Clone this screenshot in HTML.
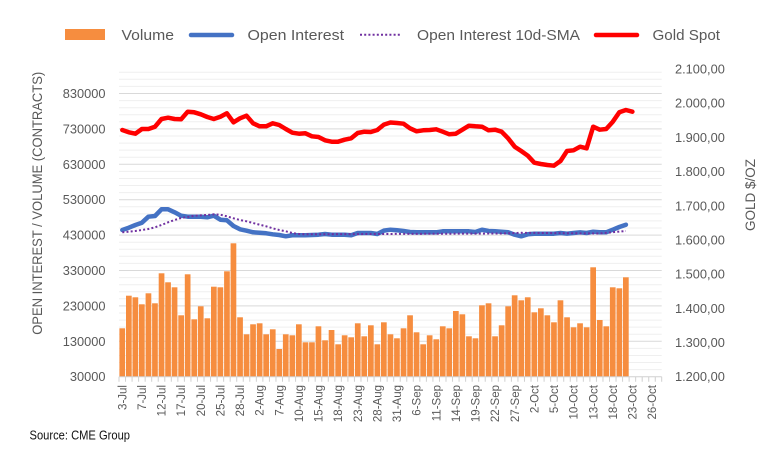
<!DOCTYPE html>
<html><head><meta charset="utf-8"><style>
html,body{margin:0;padding:0;background:#fff;}
svg{display:block;font-family:"Liberation Sans",Arial,sans-serif;}
</style></head><body>
<svg width="774" height="467" viewBox="0 0 774 467" xmlns="http://www.w3.org/2000/svg">
<rect width="774" height="467" fill="#fff"/>
<g stroke="#EFEFEF" stroke-width="1">
<line x1="119" x2="661.7" y1="369.6" y2="369.6"/><line x1="119" x2="661.7" y1="362.5" y2="362.5"/><line x1="119" x2="661.7" y1="355.5" y2="355.5"/><line x1="119" x2="661.7" y1="348.4" y2="348.4"/>
<line x1="119" x2="661.7" y1="334.2" y2="334.2"/><line x1="119" x2="661.7" y1="327.1" y2="327.1"/><line x1="119" x2="661.7" y1="320.1" y2="320.1"/><line x1="119" x2="661.7" y1="313.0" y2="313.0"/>
<line x1="119" x2="661.7" y1="298.8" y2="298.8"/><line x1="119" x2="661.7" y1="291.7" y2="291.7"/><line x1="119" x2="661.7" y1="284.7" y2="284.7"/><line x1="119" x2="661.7" y1="277.6" y2="277.6"/>
<line x1="119" x2="661.7" y1="263.4" y2="263.4"/><line x1="119" x2="661.7" y1="256.3" y2="256.3"/><line x1="119" x2="661.7" y1="249.3" y2="249.3"/><line x1="119" x2="661.7" y1="242.2" y2="242.2"/>
<line x1="119" x2="661.7" y1="228.0" y2="228.0"/><line x1="119" x2="661.7" y1="220.9" y2="220.9"/><line x1="119" x2="661.7" y1="213.9" y2="213.9"/><line x1="119" x2="661.7" y1="206.8" y2="206.8"/>
<line x1="119" x2="661.7" y1="192.6" y2="192.6"/><line x1="119" x2="661.7" y1="185.5" y2="185.5"/><line x1="119" x2="661.7" y1="178.5" y2="178.5"/><line x1="119" x2="661.7" y1="171.4" y2="171.4"/>
<line x1="119" x2="661.7" y1="157.2" y2="157.2"/><line x1="119" x2="661.7" y1="150.1" y2="150.1"/><line x1="119" x2="661.7" y1="143.1" y2="143.1"/><line x1="119" x2="661.7" y1="136.0" y2="136.0"/>
<line x1="119" x2="661.7" y1="121.8" y2="121.8"/><line x1="119" x2="661.7" y1="114.7" y2="114.7"/><line x1="119" x2="661.7" y1="107.7" y2="107.7"/><line x1="119" x2="661.7" y1="100.6" y2="100.6"/>
<line x1="119" x2="661.7" y1="86.4" y2="86.4"/><line x1="119" x2="661.7" y1="79.3" y2="79.3"/><line x1="119" x2="661.7" y1="72.3" y2="72.3"/>
</g>
<g stroke="#D9D9D9" stroke-width="1">
<line x1="119" x2="661.7" y1="341.3" y2="341.3"/><line x1="119" x2="661.7" y1="305.9" y2="305.9"/><line x1="119" x2="661.7" y1="270.5" y2="270.5"/><line x1="119" x2="661.7" y1="235.1" y2="235.1"/><line x1="119" x2="661.7" y1="199.7" y2="199.7"/><line x1="119" x2="661.7" y1="164.3" y2="164.3"/><line x1="119" x2="661.7" y1="128.9" y2="128.9"/><line x1="119" x2="661.7" y1="93.5" y2="93.5"/>
</g>
<g fill="#F68D3F">
<rect x="119.4" y="328.3" width="5.7" height="48.4"/>
<rect x="126.0" y="295.7" width="5.7" height="81.0"/>
<rect x="132.5" y="297.3" width="5.7" height="79.4"/>
<rect x="139.0" y="304.3" width="5.7" height="72.4"/>
<rect x="145.6" y="293.3" width="5.7" height="83.4"/>
<rect x="152.1" y="303.3" width="5.7" height="73.4"/>
<rect x="158.7" y="273.3" width="5.7" height="103.4"/>
<rect x="165.2" y="282.3" width="5.7" height="94.4"/>
<rect x="171.7" y="287.3" width="5.7" height="89.4"/>
<rect x="178.3" y="315.3" width="5.7" height="61.4"/>
<rect x="184.8" y="274.3" width="5.7" height="102.4"/>
<rect x="191.4" y="319.3" width="5.7" height="57.4"/>
<rect x="197.9" y="306.3" width="5.7" height="70.4"/>
<rect x="204.5" y="318.3" width="5.7" height="58.4"/>
<rect x="211.0" y="286.7" width="5.7" height="90.0"/>
<rect x="217.5" y="287.3" width="5.7" height="89.4"/>
<rect x="224.1" y="271.3" width="5.7" height="105.4"/>
<rect x="230.6" y="243.3" width="5.7" height="133.4"/>
<rect x="237.2" y="317.3" width="5.7" height="59.4"/>
<rect x="243.7" y="334.3" width="5.7" height="42.4"/>
<rect x="250.2" y="324.3" width="5.7" height="52.4"/>
<rect x="256.8" y="323.3" width="5.7" height="53.4"/>
<rect x="263.3" y="334.3" width="5.7" height="42.4"/>
<rect x="269.9" y="329.3" width="5.7" height="47.4"/>
<rect x="276.4" y="349.0" width="5.7" height="27.7"/>
<rect x="282.9" y="334.3" width="5.7" height="42.4"/>
<rect x="289.5" y="335.3" width="5.7" height="41.4"/>
<rect x="296.0" y="324.3" width="5.7" height="52.4"/>
<rect x="302.6" y="342.3" width="5.7" height="34.4"/>
<rect x="309.1" y="342.3" width="5.7" height="34.4"/>
<rect x="315.6" y="326.3" width="5.7" height="50.4"/>
<rect x="322.2" y="340.3" width="5.7" height="36.4"/>
<rect x="328.7" y="330.0" width="5.7" height="46.7"/>
<rect x="335.3" y="344.3" width="5.7" height="32.4"/>
<rect x="341.8" y="335.3" width="5.7" height="41.4"/>
<rect x="348.3" y="337.3" width="5.7" height="39.4"/>
<rect x="354.9" y="323.3" width="5.7" height="53.4"/>
<rect x="361.4" y="336.3" width="5.7" height="40.4"/>
<rect x="368.0" y="325.3" width="5.7" height="51.4"/>
<rect x="374.5" y="344.3" width="5.7" height="32.4"/>
<rect x="381.0" y="322.3" width="5.7" height="54.4"/>
<rect x="387.6" y="334.3" width="5.7" height="42.4"/>
<rect x="394.1" y="338.3" width="5.7" height="38.4"/>
<rect x="400.7" y="328.3" width="5.7" height="48.4"/>
<rect x="407.2" y="315.3" width="5.7" height="61.4"/>
<rect x="413.7" y="332.3" width="5.7" height="44.4"/>
<rect x="420.3" y="344.3" width="5.7" height="32.4"/>
<rect x="426.8" y="335.3" width="5.7" height="41.4"/>
<rect x="433.4" y="339.3" width="5.7" height="37.4"/>
<rect x="439.9" y="326.3" width="5.7" height="50.4"/>
<rect x="446.4" y="328.3" width="5.7" height="48.4"/>
<rect x="453.0" y="311.0" width="5.7" height="65.7"/>
<rect x="459.5" y="314.3" width="5.7" height="62.4"/>
<rect x="466.1" y="336.3" width="5.7" height="40.4"/>
<rect x="472.6" y="338.3" width="5.7" height="38.4"/>
<rect x="479.1" y="305.3" width="5.7" height="71.4"/>
<rect x="485.7" y="303.3" width="5.7" height="73.4"/>
<rect x="492.2" y="336.3" width="5.7" height="40.4"/>
<rect x="498.8" y="325.3" width="5.7" height="51.4"/>
<rect x="505.3" y="306.3" width="5.7" height="70.4"/>
<rect x="511.8" y="295.3" width="5.7" height="81.4"/>
<rect x="518.4" y="300.3" width="5.7" height="76.4"/>
<rect x="524.9" y="297.3" width="5.7" height="79.4"/>
<rect x="531.5" y="312.3" width="5.7" height="64.4"/>
<rect x="538.0" y="308.3" width="5.7" height="68.4"/>
<rect x="544.5" y="315.3" width="5.7" height="61.4"/>
<rect x="551.1" y="322.3" width="5.7" height="54.4"/>
<rect x="557.6" y="300.3" width="5.7" height="76.4"/>
<rect x="564.2" y="317.3" width="5.7" height="59.4"/>
<rect x="570.7" y="327.3" width="5.7" height="49.4"/>
<rect x="577.2" y="323.3" width="5.7" height="53.4"/>
<rect x="583.8" y="327.3" width="5.7" height="49.4"/>
<rect x="590.3" y="267.3" width="5.7" height="109.4"/>
<rect x="596.9" y="320.0" width="5.7" height="56.7"/>
<rect x="603.4" y="326.3" width="5.7" height="50.4"/>
<rect x="609.9" y="287.3" width="5.7" height="89.4"/>
<rect x="616.5" y="288.3" width="5.7" height="88.4"/>
<rect x="623.0" y="277.3" width="5.7" height="99.4"/>
</g>
<line x1="119" x2="661.7" y1="376.7" y2="376.7" stroke="#D0D0D0" stroke-width="1"/>
<g stroke="#D0D0D0" stroke-width="1">
<path d="M119,376.7v5M125.54,376.7v5M132.08,376.7v5M138.62,376.7v5M145.16,376.7v5M151.7,376.7v5M158.24,376.7v5M164.78,376.7v5M171.32,376.7v5M177.86,376.7v5M184.4,376.7v5M190.94,376.7v5M197.48,376.7v5M204.02,376.7v5M210.56,376.7v5M217.1,376.7v5M223.64,376.7v5M230.18,376.7v5M236.72,376.7v5M243.26,376.7v5M249.8,376.7v5M256.34,376.7v5M262.88,376.7v5M269.42,376.7v5M275.96,376.7v5M282.5,376.7v5M289.04,376.7v5M295.58,376.7v5M302.12,376.7v5M308.66,376.7v5M315.2,376.7v5M321.74,376.7v5M328.28,376.7v5M334.82,376.7v5M341.36,376.7v5M347.9,376.7v5M354.44,376.7v5M360.98,376.7v5M367.52,376.7v5M374.06,376.7v5M380.6,376.7v5M387.14,376.7v5M393.68,376.7v5M400.22,376.7v5M406.76,376.7v5M413.3,376.7v5M419.84,376.7v5M426.38,376.7v5M432.92,376.7v5M439.46,376.7v5M446,376.7v5M452.54,376.7v5M459.08,376.7v5M465.62,376.7v5M472.16,376.7v5M478.7,376.7v5M485.24,376.7v5M491.78,376.7v5M498.32,376.7v5M504.86,376.7v5M511.4,376.7v5M517.94,376.7v5M524.48,376.7v5M531.02,376.7v5M537.56,376.7v5M544.1,376.7v5M550.64,376.7v5M557.18,376.7v5M563.72,376.7v5M570.26,376.7v5M576.8,376.7v5M583.34,376.7v5M589.88,376.7v5M596.42,376.7v5M602.96,376.7v5M609.5,376.7v5M616.04,376.7v5M622.58,376.7v5M629.12,376.7v5M635.66,376.7v5M642.2,376.7v5M648.74,376.7v5M655.28,376.7v5M661.7,376.7v5"/>
</g>
<polyline fill="none" stroke="#4472C4" stroke-width="4.5" stroke-linejoin="round" stroke-linecap="round" points="122.3,230 128.8,227.7 135.4,225 141.9,222.7 148.4,216.7 155,216 161.5,209.3 168.1,209.3 174.6,212.3 181.1,215.7 187.7,216.7 194.2,216.7 200.8,216.7 207.3,217.3 213.8,215.7 220.4,219.7 226.9,220.3 233.5,226 240,229.3 246.5,230.7 253.1,232.3 259.6,232.7 266.2,233.3 272.7,234.3 279.2,235 285.8,236.3 292.3,235.3 298.9,235.3 305.4,235.3 311.9,235 318.5,234.7 325,234 331.6,234.7 338.1,234.7 344.6,234.7 351.2,235.3 357.7,233 364.3,233 370.8,233 377.3,234 383.9,230.6 390.4,229.7 397,230.3 403.5,231 410,232 416.6,232.3 423.1,232.3 429.7,232.3 436.2,232.3 442.7,231.3 449.3,231.3 455.8,231.3 462.4,231.3 468.9,231.3 475.4,232 482,229.7 488.5,231 495.1,231.3 501.6,231.7 508.1,232.3 514.7,234.7 521.2,236.3 527.8,234.3 534.3,233.7 540.8,233.7 547.4,233.7 553.9,233.7 560.5,233 567,233.7 573.5,233 580.1,232.3 586.6,233 593.2,231.7 599.7,232.3 606.2,232.3 612.8,229.7 619.3,227 625.9,224.7"/>
<polyline fill="none" stroke="#7030A0" stroke-width="2" stroke-dasharray="2 2.2" points="122.3,232.3 128.8,231.7 135.4,231 141.9,230 148.4,229 155,227.3 161.5,225 168.1,222.3 174.6,220 181.1,218 187.7,217 194.2,215.7 200.8,215.3 207.3,215 213.8,214.3 220.4,214.7 226.9,216.3 233.5,218.3 240,220 246.5,221.3 253.1,223 259.6,224.7 266.2,226.3 272.7,228.3 279.2,230 285.8,231.3 292.3,233 298.9,234 305.4,234.3 377.3,234 501.6,233.5 521.2,232.8 599.7,233.5 612.8,232.2 625.9,231"/>
<polyline fill="none" stroke="#FF0000" stroke-width="4.5" stroke-linejoin="round" stroke-linecap="round" points="122.3,130 128.8,132.3 135.4,133.7 141.9,129 148.4,129 155,126.7 161.5,119 168.1,117.7 174.6,119 181.1,119.3 187.7,111.7 194.2,112.3 200.8,114.3 207.3,117 213.8,119 220.4,116.7 226.9,113.3 233.5,122.3 240,118.3 246.5,115.7 253.1,123.3 259.6,126.3 266.2,126.3 272.7,123.3 279.2,125 285.8,129 292.3,132.7 298.9,133.7 305.4,133.3 311.9,136.3 318.5,137 325,140.3 331.6,141.7 338.1,141.7 344.6,139.7 351.2,138.3 357.7,133 364.3,131.7 370.8,132 377.3,130 383.9,124.6 390.4,122.5 397,123 403.5,123.7 410,128.3 416.6,131.3 423.1,130.3 429.7,130 436.2,129.3 442.7,131.7 449.3,134.3 455.8,133.7 462.4,129.7 468.9,125.7 475.4,126.3 482,126.7 488.5,130.3 495.1,129.7 501.6,131.7 508.1,138.3 514.7,146.7 521.2,151 527.8,155.7 534.3,162.7 540.8,164 547.4,165 553.9,165.7 560.5,161 567,151 573.5,150.3 580.1,146.7 586.6,148.3 593.2,126.7 599.7,129.7 606.2,129 612.8,121.7 619.3,112.3 625.9,110 632.4,111.7"/>
<g fill="#595959" font-size="12.8" text-anchor="end">
<text x="105.5" y="98">830000</text>
<text x="105.5" y="133.4">730000</text>
<text x="105.5" y="168.8">630000</text>
<text x="105.5" y="204.2">530000</text>
<text x="105.5" y="239.6">430000</text>
<text x="105.5" y="275">330000</text>
<text x="105.5" y="310.4">230000</text>
<text x="105.5" y="345.8">130000</text>
<text x="105.5" y="381.2">30000</text>
</g>
<g fill="#595959" font-size="12.8">
<text x="675" y="73.5">2.100,00</text>
<text x="675" y="107.7">2.000,00</text>
<text x="675" y="141.9">1.900,00</text>
<text x="675" y="176.1">1.800,00</text>
<text x="675" y="210.3">1.700,00</text>
<text x="675" y="244.5">1.600,00</text>
<text x="675" y="278.6">1.500,00</text>
<text x="675" y="312.8">1.400,00</text>
<text x="675" y="347">1.300,00</text>
<text x="675" y="381.2">1.200,00</text>
</g>
<text transform="translate(42,203.3) rotate(-90)" text-anchor="middle" fill="#595959" font-size="14" textLength="263" lengthAdjust="spacingAndGlyphs">OPEN INTEREST / VOLUME (CONTRACTS)</text>
<text transform="translate(755,195) rotate(-90)" text-anchor="middle" fill="#595959" font-size="14" textLength="72" lengthAdjust="spacingAndGlyphs">GOLD $/OZ</text>
<g fill="#595959" font-size="11.5" text-anchor="end">
<text transform="translate(126.4,385) rotate(-90)">3-Jul</text>
<text transform="translate(146.0,385) rotate(-90)">7-Jul</text>
<text transform="translate(165.6,385) rotate(-90)">12-Jul</text>
<text transform="translate(185.2,385) rotate(-90)">17-Jul</text>
<text transform="translate(204.9,385) rotate(-90)">20-Jul</text>
<text transform="translate(224.5,385) rotate(-90)">25-Jul</text>
<text transform="translate(244.1,385) rotate(-90)">28-Jul</text>
<text transform="translate(263.7,385) rotate(-90)">2-Aug</text>
<text transform="translate(283.3,385) rotate(-90)">7-Aug</text>
<text transform="translate(303.0,385) rotate(-90)">10-Aug</text>
<text transform="translate(322.6,385) rotate(-90)">15-Aug</text>
<text transform="translate(342.2,385) rotate(-90)">18-Aug</text>
<text transform="translate(361.8,385) rotate(-90)">23-Aug</text>
<text transform="translate(381.4,385) rotate(-90)">28-Aug</text>
<text transform="translate(401.1,385) rotate(-90)">31-Aug</text>
<text transform="translate(420.7,385) rotate(-90)">6-Sep</text>
<text transform="translate(440.3,385) rotate(-90)">11-Sep</text>
<text transform="translate(459.9,385) rotate(-90)">14-Sep</text>
<text transform="translate(479.5,385) rotate(-90)">19-Sep</text>
<text transform="translate(499.2,385) rotate(-90)">22-Sep</text>
<text transform="translate(518.8,385) rotate(-90)">27-Sep</text>
<text transform="translate(538.4,385) rotate(-90)">2-Oct</text>
<text transform="translate(558.0,385) rotate(-90)">5-Oct</text>
<text transform="translate(577.6,385) rotate(-90)">10-Oct</text>
<text transform="translate(597.3,385) rotate(-90)">13-Oct</text>
<text transform="translate(616.9,385) rotate(-90)">18-Oct</text>
<text transform="translate(636.5,385) rotate(-90)">23-Oct</text>
<text transform="translate(656.1,385) rotate(-90)">26-Oct</text>
</g>
<!-- legend -->
<rect x="65" y="29" width="40" height="11" fill="#F68D3F"/>
<line x1="191" y1="35" x2="232" y2="35" stroke="#4472C4" stroke-width="4.5" stroke-linecap="round"/>
<line x1="360" y1="34.7" x2="401" y2="34.7" stroke="#7030A0" stroke-width="2" stroke-dasharray="2 2.2"/>
<line x1="596" y1="35" x2="637" y2="35" stroke="#FF0000" stroke-width="4.5" stroke-linecap="round"/>
<g fill="#595959" font-size="15">
<text x="121.5" y="40" textLength="52.5" lengthAdjust="spacingAndGlyphs">Volume</text>
<text x="247.5" y="40" textLength="96.5" lengthAdjust="spacingAndGlyphs">Open Interest</text>
<text x="417" y="40" textLength="163" lengthAdjust="spacingAndGlyphs">Open Interest 10d-SMA</text>
<text x="652.5" y="40" textLength="67.5" lengthAdjust="spacingAndGlyphs">Gold Spot</text>
</g>
<text x="29.5" y="439.5" fill="#111" font-size="13" textLength="100.5" lengthAdjust="spacingAndGlyphs">Source: CME Group</text>
</svg>
</body></html>
